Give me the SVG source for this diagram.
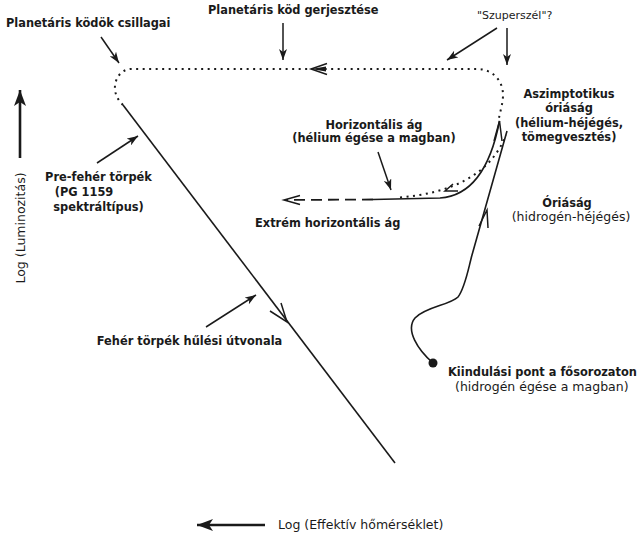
<svg xmlns="http://www.w3.org/2000/svg" width="637" height="535" viewBox="0 0 637 535">
<defs>
<style>
text{font-family:"DejaVu Sans","Liberation Sans",sans-serif;fill:#1a1a1a}
.b{font-weight:bold;font-size:11.4px}
.r{font-weight:normal;font-size:12.5px}
.s{font-weight:normal;font-size:11px}
.m{text-anchor:middle}
.trk{fill:none;stroke:#1a1a1a;stroke-width:1.6;stroke-linejoin:round}
.dot{fill:none;stroke:#1a1a1a;stroke-width:2;stroke-dasharray:2 4.5}
.dash{fill:none;stroke:#1a1a1a;stroke-width:1.8;stroke-dasharray:11 6}
.ptr{fill:none;stroke:#1a1a1a;stroke-width:1.5;marker-end:url(#ah)}
.ax{fill:none;stroke:#1a1a1a;stroke-width:2.6;marker-end:url(#axh)}
.v{fill:none;stroke:#1a1a1a;stroke-width:1.5;stroke-linejoin:miter}
</style>
<marker id="ah" markerUnits="userSpaceOnUse" markerWidth="12" markerHeight="8" refX="11" refY="4" orient="auto">
<path d="M0,0 L11,4 L0,8 L3,4 z" fill="#1a1a1a"/>
</marker>
<marker id="axh" markerUnits="userSpaceOnUse" markerWidth="18" markerHeight="12" refX="16" refY="6" orient="auto">
<path d="M0,0 L16,6 L0,12 L4,6 z" fill="#1a1a1a"/>
</marker>
</defs>

<g id="connectors">
<!-- dotted planetary nebula loop -->
<path class="dot" d="M123,105 C119,101 116,97 115,90 C114,80 120,70 130,69 L477,69 C492,69 503,80 503,95 C503,103 500,112 499,118"/>
<path d="M311,69 L326,66.5 L326,71.5 z" fill="#1a1a1a"/>
<path class="v" d="M327,63.5 L311,69 L327,74.5"/>
<!-- white dwarf cooling track -->
<path class="trk" d="M123,105 L395,463"/>
<path class="v" d="M281,303 L287,322 L270,311"/>
<!-- main track: start -> red giant branch -->
<path class="trk" d="M433,363 C418,350 405,330 415,318 C425,307 450,305 458,297 C465,288 468,270 472,255 L507,131"/>
<path class="v" d="M479,226 L487,210 L488,228"/>
<circle cx="433" cy="363" r="4.5" fill="#1a1a1a"/>
<!-- horizontal branch + AGB -->
<path class="trk" d="M373,199.5 L440,198 C470,196 490,170 499.5,121"/>
<path class="v" d="M494,141 L499.5,121 L502,141"/>
<path class="dot" d="M400,197.5 C450,193 490,176 506,135"/>
<path class="v" d="M453,184 L445,191 L458,191"/>
<!-- extreme horizontal branch -->
<path class="dash" d="M373,199.5 L286,200"/>
<path class="v" d="M300,195.5 L284,200 L300,204.5"/>
<!-- pointer arrows -->
<path class="ptr" d="M101,37 L119,63"/>
<path class="ptr" d="M283,23 L283,60"/>
<path class="ptr" d="M497,28 L447,60"/>
<path class="ptr" d="M507,28 L507,65"/>
<path class="ptr" d="M97,163 L138,136"/>
<path class="ptr" d="M206,327 L256,295"/>
<path class="ptr" d="M378,152 L391,190"/>
<!-- axes -->
<path class="ax" d="M20,158 L20,90"/>
<path class="ax" d="M265,525 L197,525"/>
</g>

<g id="planetary-nebula-stars"><text class="b" x="6" y="27">Planetáris ködök csillagai</text></g>
<g id="nebula-excitation"><text class="b" x="208" y="14">Planetáris köd gerjesztése</text></g>
<g id="superwind"><text class="s" x="477" y="19">"Szuperszél"?</text></g>
<g id="agb">
<text class="b m" x="569" y="98">Aszimptotikus</text>
<text class="b m" x="569" y="112">óriáság</text>
<text class="b m" x="569" y="127">(hélium-héjégés,</text>
<text class="b m" x="569" y="141">tömegvesztés)</text>
</g>
<g id="horizontal-branch">
<text class="b m" x="374" y="129">Horizontális ág</text>
<text class="b m" x="374" y="142">(hélium égése a magban)</text>
</g>
<g id="extreme-hb"><text class="b" x="255" y="227">Extrém horizontális ág</text></g>
<g id="rgb">
<text class="b m" x="567" y="207">Óriáság</text>
<text class="r m" x="571" y="221">(hidrogén-héjégés)</text>
</g>
<g id="pre-white-dwarf">
<text class="b m" x="98.5" y="181">Pre-fehér törpék</text>
<text class="b m" x="84" y="196">(PG 1159</text>
<text class="b m" x="98.5" y="211">spektráltípus)</text>
</g>
<g id="wd-cooling"><text class="b m" x="189.5" y="345">Fehér törpék hűlési útvonala</text></g>
<g id="start">
<text class="b" x="448" y="376">Kiindulási pont a fősorozaton</text>
<text class="r" x="455" y="391">(hidrogén égése a magban)</text>
</g>
<g id="axis-y"><text class="r m" transform="translate(24.5,228) rotate(-90)">Log (Luminozitás)</text></g>
<g id="axis-x"><text class="r" x="278" y="529">Log (Effektív hőmérséklet)</text></g>
</svg>
